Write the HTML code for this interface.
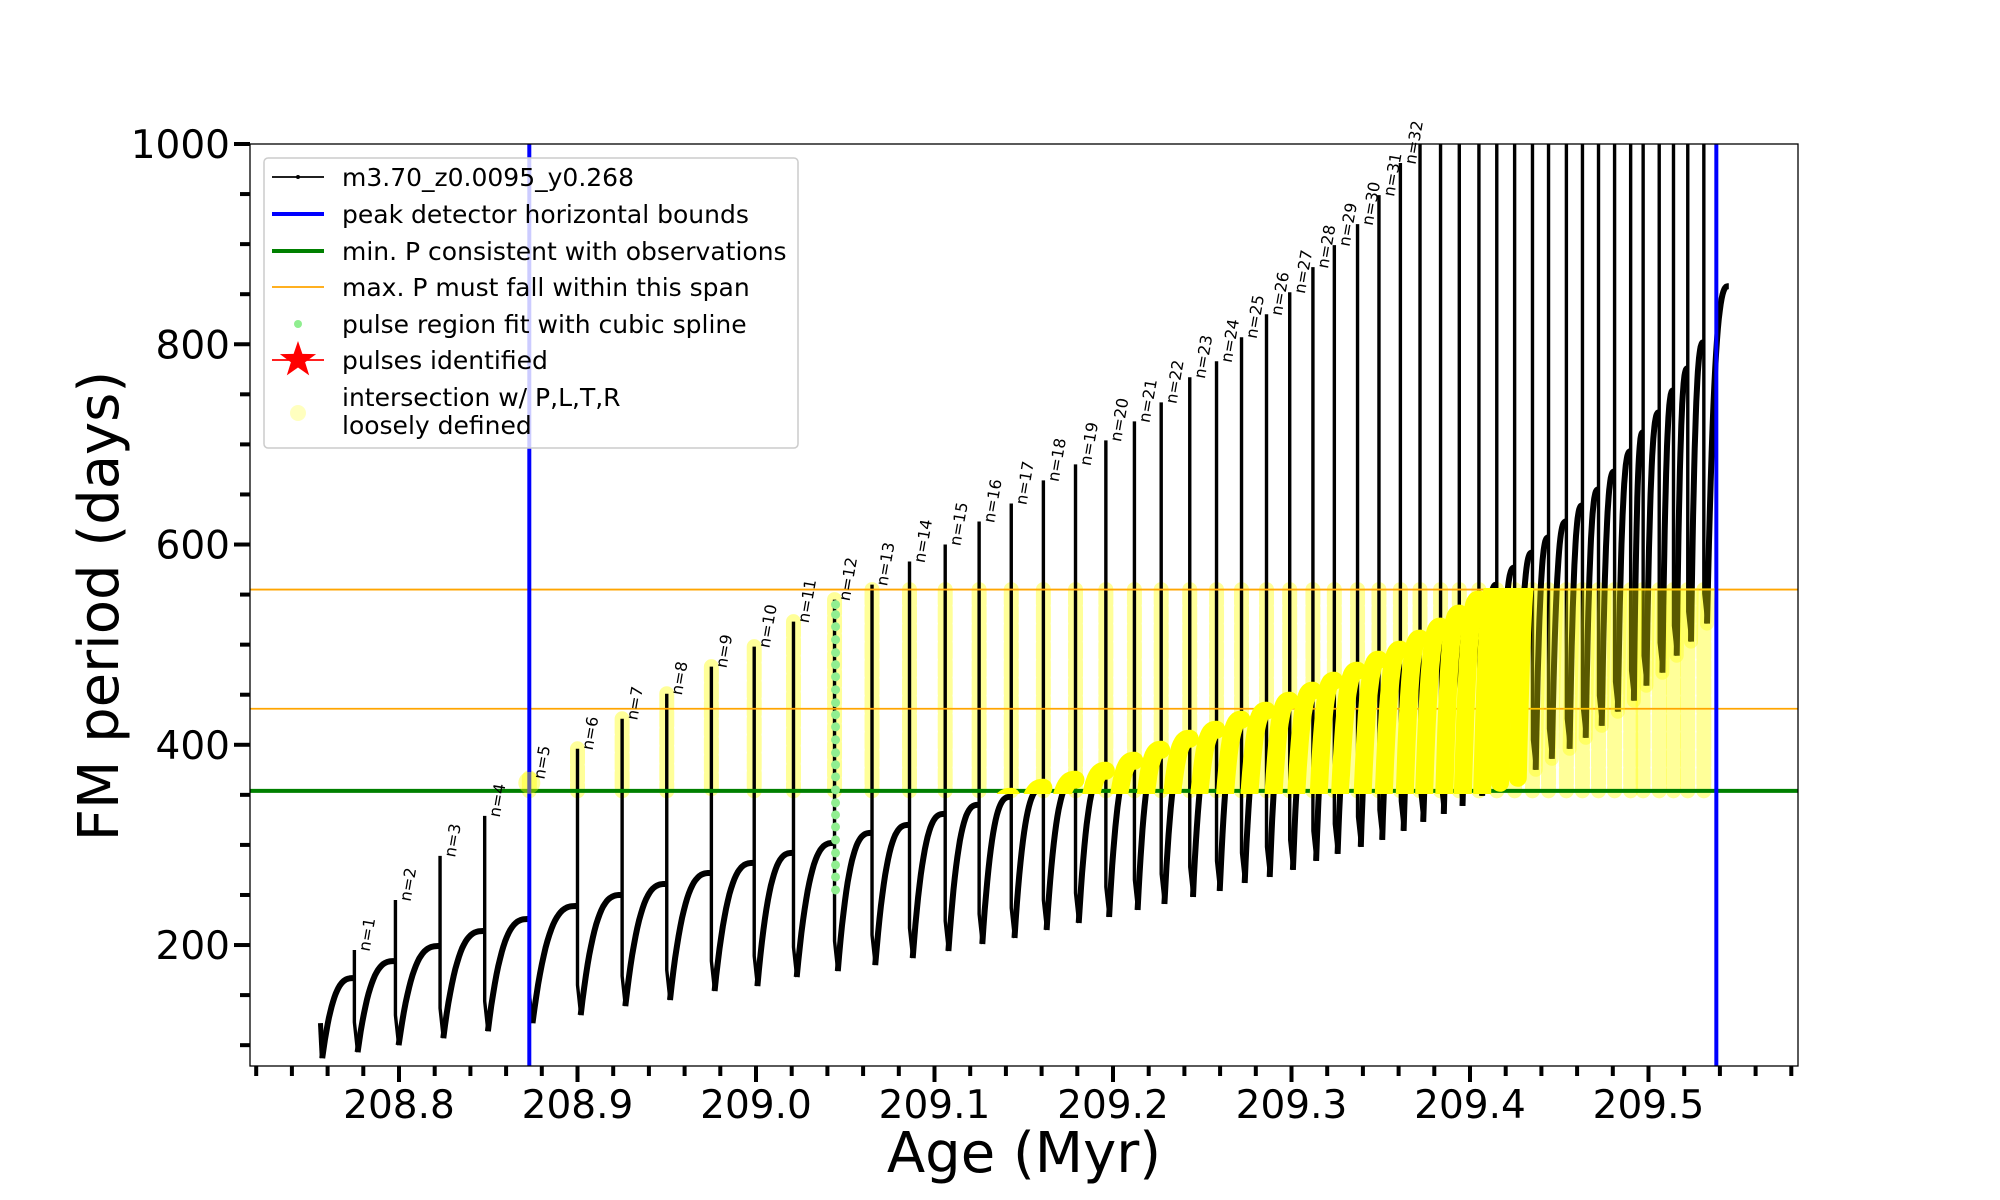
<!DOCTYPE html>
<html><head><meta charset="utf-8"><style>
html,body{margin:0;padding:0;background:#fff;}
svg{display:block;font-family:"DejaVu Sans","Liberation Sans",sans-serif;}
</style></head><body>
<svg id="chart" width="2000" height="1200" viewBox="0 0 2000 1200" xmlns="http://www.w3.org/2000/svg">
<defs><clipPath id="plotclip"><rect x="250" y="144" width="1548" height="922"/></clipPath>
<clipPath id="bandclip"><rect x="250" y="588" width="1548" height="206"/></clipPath></defs>
<rect x="250" y="144" width="1548" height="922" fill="#fff"/>
<g id="data" clip-path="url(#plotclip)"></g>
<g id="labels"></g>
<rect x="250" y="144" width="1548" height="922" fill="none" stroke="#000" stroke-width="1.3"/>
<g id="axes"></g>
<text transform="translate(118,606) rotate(-90)" text-anchor="middle" font-size="56">FM period (days)</text>
<text x="1024" y="1172" text-anchor="middle" font-size="56">Age (Myr)</text>
<g>
<rect x="264" y="158" width="534" height="290" rx="4" fill="#fff" fill-opacity="0.8" stroke="#ccc" stroke-width="1.5"/>
<g><line x1="272" y1="177" x2="324" y2="177" stroke="#000" stroke-width="1.8"/><circle cx="298" cy="177" r="2" fill="#000"/><text x="342" y="186" font-size="25">m3.70_z0.0095_y0.268</text></g>
<g><line x1="272" y1="214" x2="324" y2="214" stroke="#0000ff" stroke-width="4"/><text x="342" y="223" font-size="25">peak detector horizontal bounds</text></g>
<g><line x1="272" y1="251" x2="324" y2="251" stroke="#008000" stroke-width="4"/><text x="342" y="260" font-size="25">min. P consistent with observations</text></g>
<g><line x1="272" y1="287" x2="324" y2="287" stroke="#ffa500" stroke-width="1.8"/><text x="342" y="296" font-size="25">max. P must fall within this span</text></g>
<g><circle cx="298" cy="324" r="4" fill="#90ee90"/><text x="342" y="333" font-size="25">pulse region fit with cubic spline</text></g>
<g><line x1="272" y1="360" x2="324" y2="360" stroke="#ff0000" stroke-width="1.8"/><polygon id="star" fill="#ff0000"/><text x="342" y="369" font-size="25">pulses identified</text></g>
<g><circle cx="298" cy="413" r="8" fill="#ffff00" fill-opacity="0.25"/><text x="342" y="406" font-size="25">intersection w/ P,L,T,R</text><text x="342" y="434" font-size="25">loosely defined</text></g>
</g>
</svg>
<script>
// ---- data ----
const pulseAges = [208.775,208.798,208.823,208.848,208.873,208.900,208.925,208.950,208.975,208.999,209.021,209.044,209.065,209.086,209.106,209.125,209.143,209.161,209.179,209.196,209.212,209.227,209.243,209.258,209.272,209.286,209.299,209.312,209.324,209.337,209.349,209.361,209.372,209.3835,209.394,209.405,209.415,209.425,209.435,209.444,209.454,209.463,209.472,209.481,209.490,209.497,209.506,209.514,209.522,209.531];
const pulsePeaks = [195,245,289,329,367,396,426,451,478,498,523,545,560,583,600,623,641,664,680,704,723,742,767,783,807,830,852,877,899,920,949,981,1100,1100,1100,1100,1100,1100,1100,1100,1100,1100,1100,1100,1100,1100,1100,1100,1100,1100];
const topsBefore = [167,184,199,214,226,239,250,261,272,282,292,302,312,320,331,340,348,357,365,374,384,395,406,415,425,434,444,454,464,474,485,495,506,518,531,545,560,577,592,607,623,639,655,673,693,712,732,754,776,802];
const troughsAfter = [93,100,107,114,122,130,139,145,154,159,168,174,180,187,194,201,207,215,222,228,235,241,248,254,262,268,275,284,291,298,305,314,323,331,339,349,362,367,375,386,396,407,419,433,444,459,472,489,503,521];
const startPoint = [208.756, 122];
const startTrough = 87;
const endPoint = [209.545, 858];
const splineValues = [255,268,280,292,305,318,330,342,355,368,380,392,405,418,430,442,455,468,480,492,505,518,530,540];
const minP = 354;
const maxPSpan = [436, 555];
const boundAges = [208.873, 209.538];
const xTicksMajor = ["208.8","208.9","209.0","209.1","209.2","209.3","209.4","209.5"];
const yTicksMajor = ["200","400","600","800","1000"];

// ---- scales ----
const X = v => 756 + (v - 209.0) * 1785;
const Y = v => 144 + (1000 - v) * 1.0013;
const NS = "http://www.w3.org/2000/svg";
function mk(tag, attrs, parent){const e=document.createElementNS(NS,tag);for(const k in attrs)e.setAttribute(k,attrs[k]);parent.appendChild(e);return e;}
const data = document.getElementById('data');
const labels = document.getElementById('labels');
const axes = document.getElementById('axes');

const riseSegs = [];
function riseSeg(t0, v0, t1, v1){
  const pts=[];
  for(let i=0;i<=24;i++){const s=i/24;const v=v0+(v1-v0)*(1-Math.pow(1-s,3));pts.push([X(t0+(t1-t0)*s),Y(v)]);}
  return pts;
}
riseSegs.push(riseSeg(startPoint[0]+0.001, startTrough, pulseAges[0], topsBefore[0]));
for(let i=0;i<pulseAges.length;i++){
  const t0=pulseAges[i]+0.0018;
  const t1 = i+1<pulseAges.length ? pulseAges[i+1] : endPoint[0];
  const v1 = i+1<pulseAges.length ? topsBefore[i+1] : endPoint[1];
  riseSegs.push(riseSeg(t0, troughsAfter[i], t1, v1));
}
const ptsStr = p => p.map(q=>q[0].toFixed(1)+','+q[1].toFixed(1)).join(' ');

// yellow vertical columns (light)
const yCols = mk('g',{},data);


for(let i=4;i<pulseAges.length;i++){
  const hi=Math.min(pulsePeaks[i], maxPSpan[1]);
  const c=mk('line',{x1:X(pulseAges[i]),x2:X(pulseAges[i]),y1:Y(hi),y2:Y(minP),stroke:'#ffff00','stroke-opacity':0.4,'stroke-width':15,'stroke-dasharray':'14 4','stroke-linecap':'round'},yCols);
  
  
}

// black series
const ser = mk('g',{},data);


const st = mk('line',{x1:X(startPoint[0]),y1:Y(startPoint[1]),x2:X(startPoint[0]+0.001),y2:Y(startTrough),stroke:'#000','stroke-width':5},ser);


for(let i=0;i<pulseAges.length;i++){
  const x=X(pulseAges[i]);
  const pl=mk('polyline',{points:`${x},${Y(topsBefore[i])} ${x},${Y(pulsePeaks[i])} ${x},${Y(troughsAfter[i]+30)} ${X(pulseAges[i]+0.0018)},${Y(troughsAfter[i])}`,fill:'none',stroke:'#000','stroke-width':3.4},ser);
  
  
}
riseSegs.forEach(p=>{
  const r=mk('polyline',{points:ptsStr(p),fill:'none',stroke:'#000','stroke-width':6,'stroke-linejoin':'round'},ser);
  
  
});

// reference lines
const refs=[['min-p-line',minP,'#008000',4],['max-p-line-upper',maxPSpan[1],'#ffa500',1.8],['max-p-line-lower',maxPSpan[0],'#ffa500',1.8]];
refs.forEach(r=>{
  const l=mk('line',{x1:250,x2:1798,y1:Y(r[1]),y2:Y(r[1]),stroke:r[2],'stroke-width':r[3]},data);
  
  
});
boundAges.forEach((a,i)=>{
  const l=mk('line',{x1:X(a),x2:X(a),y1:144,y2:1066,stroke:'#0000ff','stroke-width':4},data);
  
  
});

// yellow band over rising curves
const yBand = mk('g',{'clip-path':'url(#bandclip)'},data);


riseSegs.forEach((p,i)=>{
  const late = i>=39;
  const s=mk('polyline',{points:ptsStr(p),fill:'none',stroke:'#ffff00','stroke-opacity':late?0.35:1,'stroke-width':late?14:18,'stroke-linecap':'round','stroke-linejoin':'round'},yBand);
  
  
});
const m5=mk('circle',{cx:X(pulseAges[4]),cy:Y(362),r:11,fill:'#ffff00','fill-opacity':0.4},data);



// green spline dots on n=12
const sg = mk('g',{},data);


splineValues.forEach(v=>{
  const c=mk('circle',{cx:X(pulseAges[11])+1,cy:Y(v),r:4.5,fill:'#90ee90'},sg);
  
  
});

// pulse labels
for(let i=0;i<32;i++){
  const t=mk('text',{transform:`translate(${X(pulseAges[i])+15},${Y(pulsePeaks[i])+2}) rotate(-80)`,'font-size':16},labels);
  t.textContent='n='+(i+1);
  
  
}

// axes ticks
for(let k=0;k<=43;k++){
  const v=208.72+k*0.02;
  const x=X(v);
  if(x<252||x>1798)continue;
  const major=Math.abs(Math.round(v*10)-v*10)<1e-6;
  const t=mk('line',{x1:x,x2:x,y1:1066,y2:1066+(major?16:10),stroke:'#000','stroke-width':4},axes);
  
  
}
xTicksMajor.forEach(s=>{
  const t=mk('text',{x:X(parseFloat(s)),y:1118,'text-anchor':'middle','font-size':39},axes);
  t.textContent=s;
  
  
});
for(let v=100;v<=1000;v+=50){
  const major=v%200===0;
  const t=mk('line',{x1:250-(major?16:10),x2:250,y1:Y(v),y2:Y(v),stroke:'#000','stroke-width':4},axes);
  
  
}
yTicksMajor.forEach(s=>{
  const t=mk('text',{x:230,y:Y(parseFloat(s))+14,'text-anchor':'end','font-size':39},axes);
  t.textContent=s;
  
  
});

(function(){
  const cx=298,cy=360,R=19,r=7.5;let p=[];
  for(let i=0;i<10;i++){const a=-Math.PI/2+i*Math.PI/5;const rr=i%2?r:R;p.push((cx+rr*Math.cos(a)).toFixed(1)+','+(cy+rr*Math.sin(a)).toFixed(1));}
  const s=document.getElementById('star');
  s.setAttribute('points',p.join(' '));
  
  
})();
</script>
</body></html>
